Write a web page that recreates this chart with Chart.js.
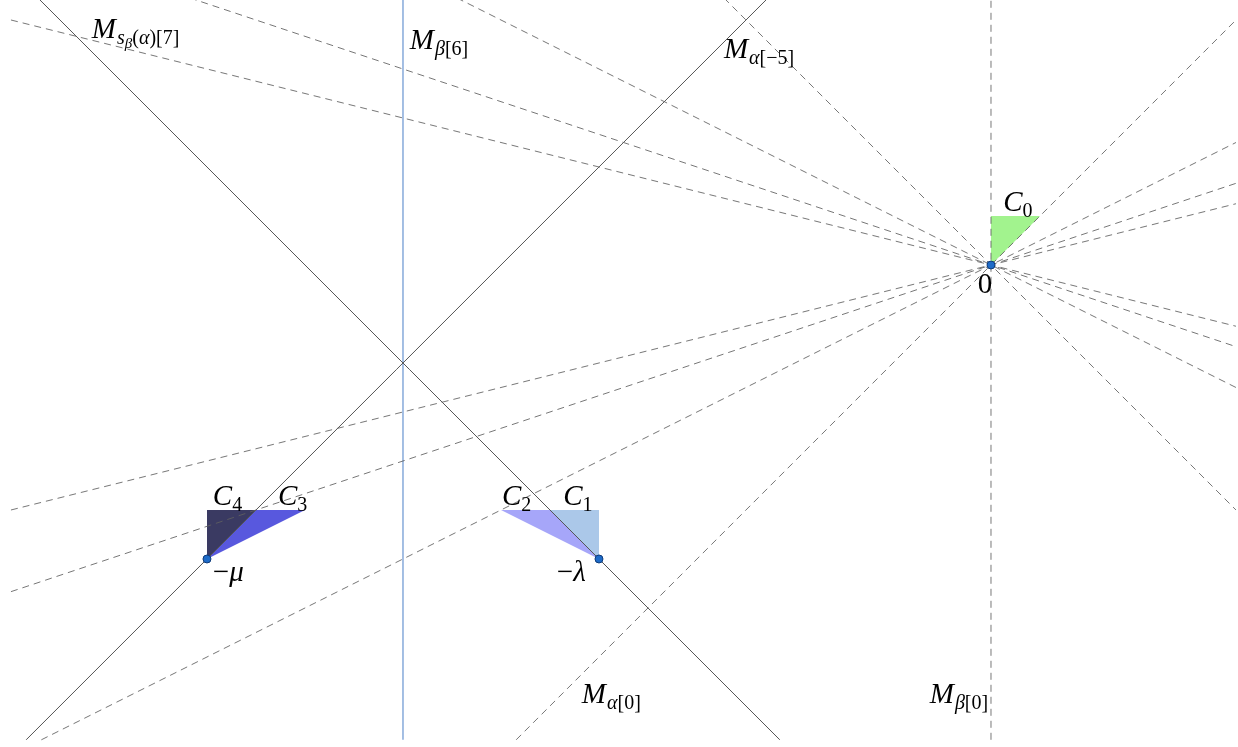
<!DOCTYPE html>
<html lang="en">
<head>
<meta charset="UTF-8">
<title>Alcoves</title>
<script src="https://cdn.jsdelivr.net/npm/chart.js"></script>
<style>
  body { margin: 0; background: #fff; }
  #chart { width: 1238px; height: 747px; }
</style>
</head>
<body>
<div id="chart"><canvas id="myChart" width="1238" height="747"></canvas></div>
<script>
// walls as a*x + b*y = c
const dashedWalls = [[1, 0, 0], [1, -1, 0], [1, 1, 0], [1, -2, 0], [1, 2, 0], [1, -3, 0], [1, 3, 0], [1, -4, 0], [1, 4, 0]];
const solidWalls = [[1, 1, -14], [1, -1, -10]];
const blueWalls = [[1, 0, -12]];

// alcoves (triangles)
const alcoveC0 = [[0, 0], [0, 1], [1, 1]];
const alcoveC1 = [[-8, -6], [-8, -5], [-9, -5]];
const alcoveC2 = [[-8, -6], [-9, -5], [-10, -5]];
const alcoveC3 = [[-16, -6], [-15, -5], [-14, -5]];
const alcoveC4 = [[-16, -6], [-16, -5], [-15, -5]];

// 0, -lambda, -mu
const weightPoints = [[0, 0], [-8, -6], [-16, -6]];

// region where walls are drawn
const box = { x0: -20, x1: 5, y0: -9.69, y1: 5.45 };

// labels: anchor (baseline-left) and parts [text, level]
const labels = [
    { at: [-18.35, 4.63], parts: [['M', 0], ['s', 1], ['β', 2], ['(', 1], ['α', 1], [')[7]', 1]] },
    { at: [-11.86, 4.41], parts: [['M', 0], ['β', 1], ['[6]', 1]] },
    { at: [-5.45, 4.22], parts: [['M', 0], ['α', 1], ['[−5]', 1]] },
    { at: [0.25, 1.10], parts: [['C', 0], ['0', 1]] },
    { at: [-0.27, -0.57], parts: [['0', 0]] },
    { at: [-15.88, -4.90], parts: [['C', 0], ['4', 1]] },
    { at: [-14.55, -4.90], parts: [['C', 0], ['3', 1]] },
    { at: [-9.98, -4.90], parts: [['C', 0], ['2', 1]] },
    { at: [-8.73, -4.90], parts: [['C', 0], ['1', 1]] },
    { at: [-15.88, -6.45], parts: [['−', 0], ['μ', 0]] },
    { at: [-8.86, -6.45], parts: [['−', 0], ['λ', 0]] },
    { at: [-8.35, -8.94], parts: [['M', 0], ['α', 1], ['[0]', 1]] },
    { at: [-1.25, -8.94], parts: [['M', 0], ['β', 1], ['[0]', 1]] }
];

function segment([a, b, c]) {
    const pts = [];
    if (b !== 0) [box.x0, box.x1].forEach(x => {
        const y = (c - a * x) / b;
        if (y >= box.y0 - 1e-9 && y <= box.y1 + 1e-9) pts.push({ x, y });
    });
    if (a !== 0) [box.y0, box.y1].forEach(y => {
        const x = (c - b * y) / a;
        if (x >= box.x0 - 1e-9 && x <= box.x1 + 1e-9) pts.push({ x, y });
    });
    pts.sort((p, q) => p.x - q.x || p.y - q.y);
    return [pts[0], pts[pts.length - 1]];
}

function wallSet(walls, color, dash, width) {
    return walls.map(w => ({
        data: segment(w),
        borderColor: color,
        borderWidth: width,
        borderDash: dash,
        pointRadius: 0,
        fill: false,
        order: 2
    }));
}

function alcove(tri, color) {
    const pts = tri.concat([tri[0]]).map(([x, y]) => ({ x, y }));
    return {
        data: pts,
        borderWidth: 0,
        borderColor: 'rgba(0,0,0,0)',
        backgroundColor: color,
        pointRadius: 0,
        fill: 'shape',
        order: 5
    };
}

const datasets = [
    alcove(alcoveC0, '#a2f38e'),
    alcove(alcoveC1, '#abc8e9'),
    alcove(alcoveC2, '#a6a6f9'),
    alcove(alcoveC3, '#5858de'),
    alcove(alcoveC4, '#3a3a62'),
    ...wallSet(dashedWalls, 'rgba(95,95,95,0.85)', [7, 5], 1),
    ...wallSet(solidWalls, '#555555', [], 1),
    ...wallSet(blueWalls, '#86a9da', [], 1.5),
    {
        data: weightPoints.map(([x, y]) => ({ x, y })),
        showLine: false,
        pointRadius: 4,
        pointBackgroundColor: '#1e6bc8',
        pointBorderColor: '#0d3a78',
        pointBorderWidth: 1,
        order: 0
    }
];

const texLabels = {
    id: 'texLabels',
    afterDatasetsDraw(chart) {
        const { ctx, scales: { x, y } } = chart;
        ctx.save();
        ctx.fillStyle = '#000';
        ctx.textBaseline = 'alphabetic';
        labels.forEach(lb => {
            let px = x.getPixelForValue(lb.at[0]);
            const py = y.getPixelForValue(lb.at[1]);
            lb.parts.forEach(([t, lvl]) => {
                const size = [29, 20, 15][lvl];
                const drop = [0, 6, 10][lvl];
                const italic = /[A-Za-z\u03b1-\u03c9]/.test(t);
                ctx.font = (italic ? 'italic ' : '') + size + 'px "Liberation Serif", serif';
                ctx.fillText(t, px, py + drop);
                px += ctx.measureText(t).width + (lvl === 0 && t === 'M' ? 1 : 0);
            });
        });
        ctx.restore();
    }
};

const ctx = document.getElementById('myChart').getContext('2d');
new Chart(ctx, {
    type: 'line',
    data: { datasets: datasets },
    options: {
        responsive: false,
        animation: false,
        layout: { padding: 0, autoPadding: false },
        elements: { line: { tension: 0 } },
        plugins: { legend: { display: false }, tooltip: { enabled: false } },
        events: [],
        scales: {
            x: { type: 'linear', min: -20.224, max: 5.041, display: false },
            y: { type: 'linear', min: -9.837, max: 5.408, display: false }
        }
    },
    plugins: [texLabels]
});
</script>
</body>
</html>
